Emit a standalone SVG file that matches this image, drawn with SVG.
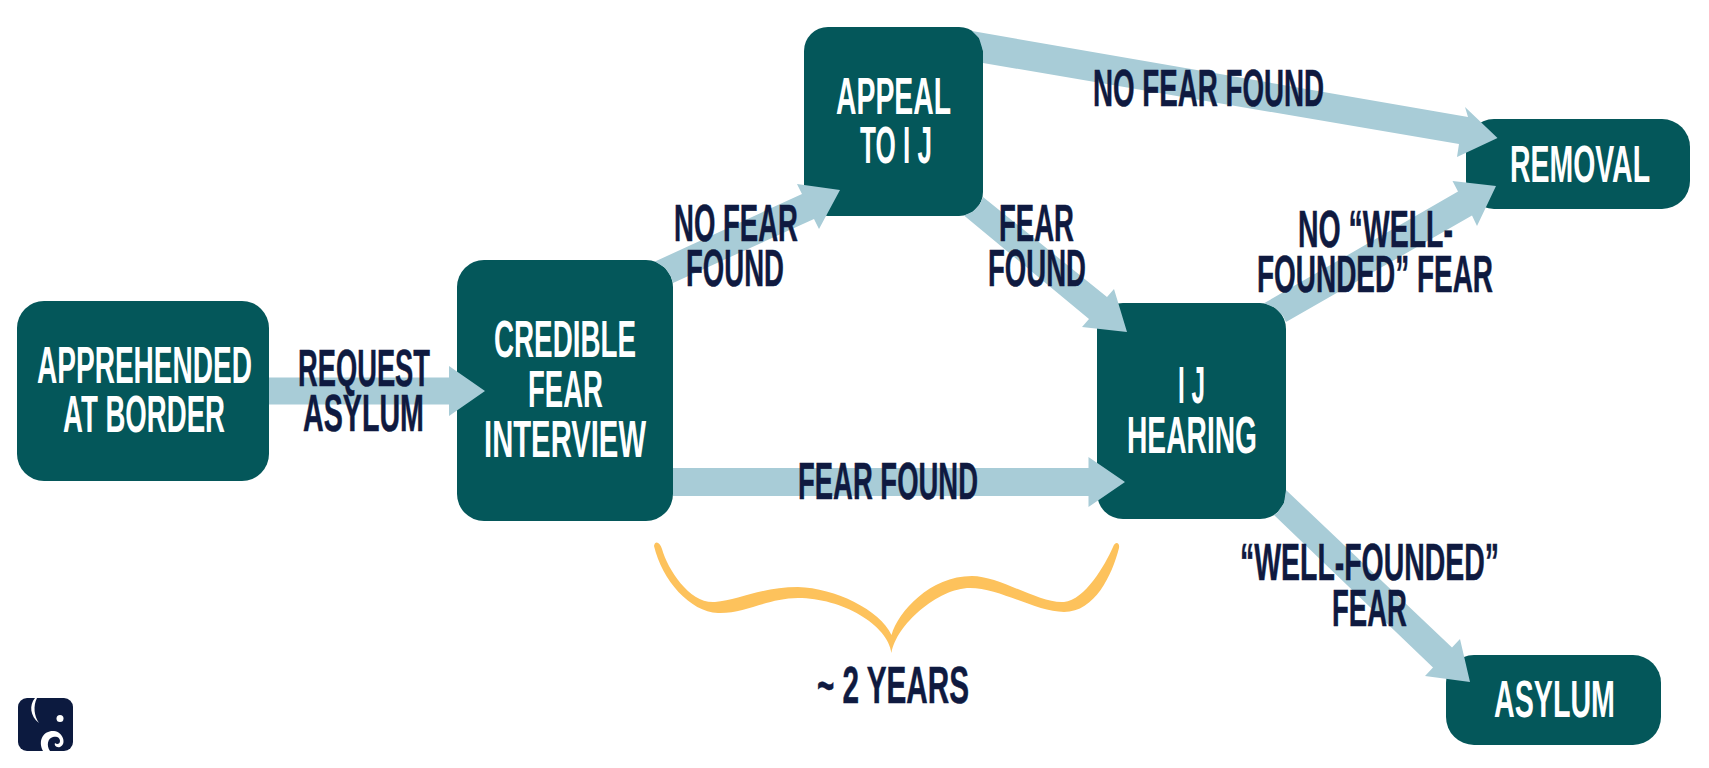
<svg xmlns="http://www.w3.org/2000/svg" width="1709" height="768" viewBox="0 0 1709 768">
<style>
text{font-family:"Liberation Sans",Arial,sans-serif;font-weight:700;font-size:51px;text-anchor:start}
.n rect{fill:#04575a}
.n text{fill:#fff}
.l{fill:#0f1a40;stroke:#0f1a40;stroke-width:.5}
.a{fill:#a8ccd7}
</style>
<rect width="1709" height="768" fill="#fff"/>
<g class="n" id="node-apprehended"><rect x="17" y="301" width="252" height="180" rx="27"/>
<text x="37" y="382.5" textLength="215" lengthAdjust="spacingAndGlyphs">APPREHENDED</text>
<text x="63" y="432" textLength="162" lengthAdjust="spacingAndGlyphs">AT BORDER</text></g>
<g class="n" id="node-credible"><rect x="457" y="260" width="216" height="261" rx="27"/>
<text x="494" y="357" textLength="142" lengthAdjust="spacingAndGlyphs">CREDIBLE</text>
<text x="528" y="406.5" textLength="75" lengthAdjust="spacingAndGlyphs">FEAR</text>
<text x="484" y="456.5" textLength="162" lengthAdjust="spacingAndGlyphs">INTERVIEW</text></g>
<g class="n" id="node-appeal"><rect x="804" y="27" width="179" height="189" rx="24"/>
<text x="836" y="114" textLength="115" lengthAdjust="spacingAndGlyphs">APPEAL</text>
<text x="860" y="163" textLength="72" lengthAdjust="spacingAndGlyphs">TO I J</text></g>
<g class="n" id="node-hearing"><rect x="1097" y="303" width="189" height="216" rx="26"/>
<text x="1178" y="403" textLength="27" lengthAdjust="spacingAndGlyphs">I J</text>
<text x="1127" y="453" textLength="130" lengthAdjust="spacingAndGlyphs">HEARING</text></g>
<g class="n" id="node-removal"><rect x="1466" y="119" width="224" height="90" rx="28"/>
<text x="1510" y="182" textLength="140" lengthAdjust="spacingAndGlyphs">REMOVAL</text></g>
<g class="n" id="node-asylum"><rect x="1446" y="655" width="215" height="90" rx="28"/>
<text x="1494" y="717" textLength="121" lengthAdjust="spacingAndGlyphs">ASYLUM</text></g>
<g id="connectors">
<polygon class="a" points="269,377.5 449,377.5 449,366 485,391 449,416 449,404.5 269,404.5"/>
<polygon class="a" points="655,261.5 665,267.8 671,276.8 673,283 814,219 819,229 840,190 797,184 802,194"/>
<polygon class="a" points="972,31 979,38 983,51 983,63 1459,144 1457,157 1497.5,138 1465,107 1468,117"/>
<polygon class="a" points="983,197 980,204 973,211.5 964,215.5 1089,319 1082,327 1127,332 1114,289 1107,297"/>
<polygon class="a" points="673,468 1088.5,468 1088.5,457 1125,482 1088.5,507 1088.5,496 673,496"/>
<polygon class="a" points="1264,303.3 1275,307.7 1283,316 1286,322 1472,215.5 1477,226 1496,186 1452.5,181 1458,191.5"/>
<polygon class="a" points="1286,490 1284,503 1277,513 1274,515 1433,667.5 1425,676 1470,682 1460,639 1452,647.5"/>
<g class="l">
<text x="298" y="386" textLength="132" lengthAdjust="spacingAndGlyphs">REQUEST</text>
<text x="303" y="431" textLength="121" lengthAdjust="spacingAndGlyphs">ASYLUM</text>
<text x="674" y="241" textLength="124" lengthAdjust="spacingAndGlyphs">NO FEAR</text>
<text x="686" y="286" textLength="98" lengthAdjust="spacingAndGlyphs">FOUND</text>
<text x="1093" y="106" textLength="231" lengthAdjust="spacingAndGlyphs">NO FEAR FOUND</text>
<text x="999" y="241" textLength="75" lengthAdjust="spacingAndGlyphs">FEAR</text>
<text x="988" y="286" textLength="98" lengthAdjust="spacingAndGlyphs">FOUND</text>
<text x="798" y="499" textLength="180" lengthAdjust="spacingAndGlyphs">FEAR FOUND</text>
<text x="1298" y="247" textLength="155" lengthAdjust="spacingAndGlyphs">NO “WELL-</text>
<text x="1257" y="292" textLength="236" lengthAdjust="spacingAndGlyphs">FOUNDED” FEAR</text>
<text x="1240" y="580" textLength="259" lengthAdjust="spacingAndGlyphs">“WELL-FOUNDED”</text>
<text x="1332" y="626" textLength="75" lengthAdjust="spacingAndGlyphs">FEAR</text>
</g>
</g>
<path id="brace" fill="#fdc25c" d="M654,546C655,540 660,542 662,549C668,570 690,604 715,602C738,600 762,587 798,587C835,588 880,610 891.5,635C898,612 930,576 972,576C1000,576 1040,604 1064,602C1085,600 1105,565 1113,547C1115,541 1120,542 1119,548C1112,575 1095,612 1064,612C1036,612 1000,588 970,588C938,588 896,625 891.5,653C888,625 842,598 798,598C768,598 745,614 718,613C690,612 662,580 654,546Z"/>
<text class="l" x="817" y="703" textLength="152" lengthAdjust="spacingAndGlyphs">~ 2 YEARS</text>
<g id="logo">
<rect x="18" y="698" width="55" height="53" rx="9" fill="#0c1a3f"/>
<path fill="#fff" d="M35,698C29,705 30,716 39,723C34,716 33,706 37,698Z"/>
<circle cx="60" cy="718.5" r="3.5" fill="#fff"/>
<path fill="#fff" d="M43,751C37,739 45,730 54,731C63,732 67,744 60,747C56,748 54,745 55,743C57,745 60,744 60,741C60,737 56,736 53,737C48,738 46,745 50,751Z"/>
</g>
</svg>
